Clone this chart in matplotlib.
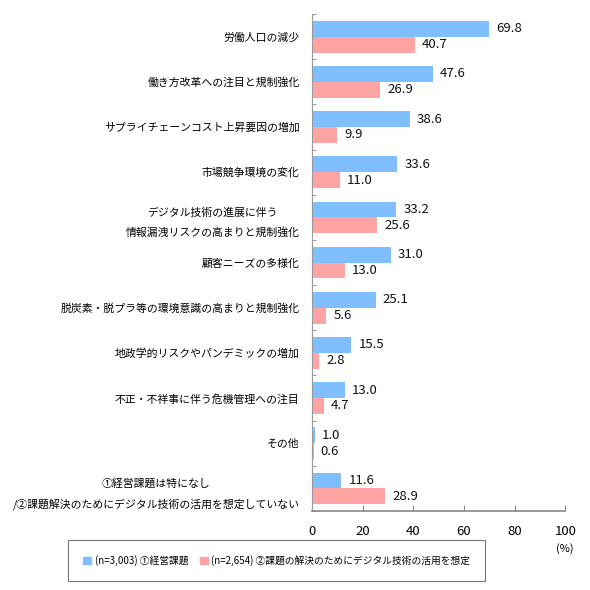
import matplotlib
matplotlib.use("Agg")
import matplotlib.pyplot as plt
from matplotlib.patches import Patch
import numpy as np

plt.rcParams['font.family'] = ['Noto Sans CJK JP', 'DejaVu Sans']

categories = [
    "労働人口の減少",
    "働き方改革への注目と規制強化",
    "サプライチェーンコスト上昇要因の増加",
    "市場競争環境の変化",
    "デジタル技術の進展に伴う\n情報漏洩リスクの高まりと規制強化",
    "顧客ニーズの多様化",
    "脱炭素・脱プラ等の環境意識の高まりと規制強化",
    "地政学的リスクやパンデミックの増加",
    "不正・不祥事に伴う危機管理への注目",
    "その他",
    "①経営課題は特になし\n/②課題解決のためにデジタル技術の活用を想定していない",
]
issues = [69.8, 47.6, 38.6, 33.6, 33.2, 31.0, 25.1, 15.5, 13.0, 1.0, 11.6]
digital = [40.7, 26.9, 9.9, 11.0, 25.6, 13.0, 5.6, 2.8, 4.7, 0.6, 28.9]
legend_labels = ["(n=3,003) ①経営課題",
                 "(n=2,654) ②課題の解決のためにデジタル技術の活用を想定"]

blue = "#80bfff"
pink = "#ffa3a3"

fig = plt.figure(figsize=(5.9, 5.9), dpi=100)
ax = fig.add_axes([0.529, 0.134, 0.429, 0.842])

y = np.arange(len(categories))
h = 0.35
ax.barh(y - h / 2, issues, height=h, color=blue)
ax.barh(y + h / 2, digital, height=h, color=pink)

for yi, v in zip(y, issues):
    ax.text(v + 2.8, yi - h / 2, f"{v:.1f}", va="center", ha="left", fontsize=9.5, color="#111111")
for yi, v in zip(y, digital):
    ax.text(v + 2.8, yi + h / 2, f"{v:.1f}", va="center", ha="left", fontsize=9.5, color="#111111")

ax.set_ylim(len(categories) - 0.5, -0.5)
ax.set_xlim(0, 100)
ax.set_xticks(np.arange(0, 101, 20))
ax.tick_params(axis="x", direction="in", length=4, color="#888888", labelsize=9.5, pad=10)

ax.set_yticks(y)
ax.set_yticklabels(categories, fontsize=7.8, linespacing=2.0)
for lbl in ax.get_yticklabels():
    lbl.set_multialignment("center")
ax.tick_params(axis="y", length=0, pad=9)
ax.set_yticks(np.arange(-0.5, len(categories), 1), minor=True)
ax.tick_params(axis="y", which="minor", direction="in", length=3, color="#888888")

for s in ["top", "right"]:
    ax.spines[s].set_visible(False)
ax.spines["left"].set_color("#999999")
ax.spines["bottom"].set_color("#888888")
ax.spines["bottom"].set_linewidth(1.2)

fig.text(0.958, 0.071, "(%)", ha="center", va="center", fontsize=8)

handles = [Patch(color=blue), Patch(color=pink)]
leg = fig.legend(handles, legend_labels, loc="center", bbox_to_anchor=(0.469, 0.05),
                 ncol=2, fontsize=7, frameon=True, fancybox=False,
                 handlelength=0.8, handleheight=0.8, handletextpad=0.4,
                 columnspacing=1.2, borderpad=1.5)
leg.get_frame().set_edgecolor("#555555")
leg.get_frame().set_linewidth(0.8)

fig.savefig("out.png", dpi=100)
